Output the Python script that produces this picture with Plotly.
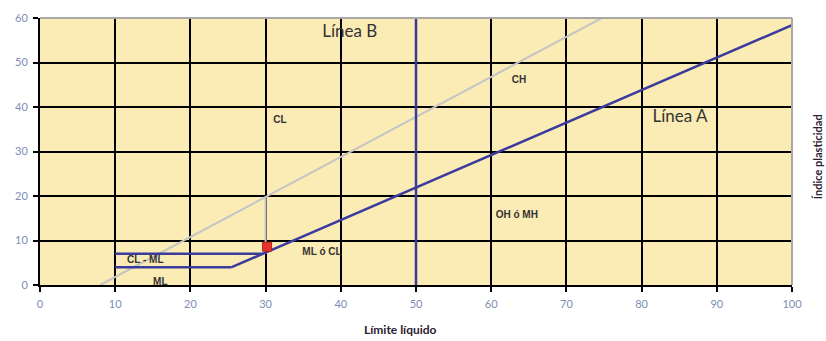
import plotly.graph_objects as go

# Casagrande plasticity chart data
x_ticks = [0, 10, 20, 30, 40, 50, 60, 70, 80, 90, 100]
y_ticks = [0, 10, 20, 30, 40, 50, 60]

# Line A: PI = 0.73 (LL - 20), starting where PI = 4
line_a_ll = [25.5, 100]
line_a_pi = [4.0, 58.4]

# Line B: LL = 50
line_b_ll = [50, 50]
line_b_pi = [0, 60]

# Upper limit line: PI = 0.9 (LL - 8)
u_line_ll = [8, 74.7]
u_line_pi = [0, 60]

# Vertical guide at LL = 30 from the U-line down to the CL-ML band
guide_ll = [30, 30]
guide_pi = [19.8, 7]

# CL-ML band limits (PI = 7 and PI = 4)
band_top_ll = [10, 29.6]
band_top_pi = [7, 7]
band_bot_ll = [10, 25.5]
band_bot_pi = [4, 4]

# Sample point
sample_ll = [30.2]
sample_pi = [8.6]

# Zone labels
zone_text = ["CH", "CL", "OH ó MH", "ML ó CL", "CL - ML", "ML"]
zone_ll = [63.7, 31.9, 63.4, 37.5, 14.0, 16.0]
zone_pi = [46.0, 37.0, 15.7, 7.3, 5.5, 0.6]

line_text = ["Línea B", "Línea A"]
line_text_ll = [41.2, 85.1]
line_text_pi = [56.6, 37.6]

BLUE = "#3b3b9e"
GRAY = "#c4c4c4"
TXT = "#333333"

fig = go.Figure()

fig.add_trace(go.Scatter(x=u_line_ll, y=u_line_pi, mode="lines",
                         line=dict(color=GRAY, width=2), hoverinfo="skip"))
fig.add_trace(go.Scatter(x=guide_ll, y=guide_pi, mode="lines",
                         line=dict(color=GRAY, width=2), hoverinfo="skip"))
fig.add_trace(go.Scatter(x=line_a_ll, y=line_a_pi, mode="lines",
                         line=dict(color=BLUE, width=2.5), hoverinfo="skip"))
fig.add_trace(go.Scatter(x=line_b_ll, y=line_b_pi, mode="lines",
                         line=dict(color=BLUE, width=2.5), hoverinfo="skip"))
fig.add_trace(go.Scatter(x=band_top_ll, y=band_top_pi, mode="lines",
                         line=dict(color=BLUE, width=2.5), hoverinfo="skip"))
fig.add_trace(go.Scatter(x=band_bot_ll, y=band_bot_pi, mode="lines",
                         line=dict(color=BLUE, width=2.5), hoverinfo="skip"))
fig.add_trace(go.Scatter(x=sample_ll, y=sample_pi, mode="markers",
                         marker=dict(symbol="square", size=9, color="#e8332a",
                                     line=dict(color="#b02020", width=1)),
                         hoverinfo="skip"))

fig.add_trace(go.Scatter(x=zone_ll, y=zone_pi, mode="text", text=zone_text,
                         textfont=dict(family="Liberation Sans", size=10, color=TXT),
                         texttemplate="<b>%{text}</b>", cliponaxis=False,
                         hoverinfo="skip"))
fig.add_trace(go.Scatter(x=line_text_ll, y=line_text_pi, mode="text", text=line_text,
                         textfont=dict(family="Lato", size=17, color=TXT),
                         cliponaxis=False, hoverinfo="skip"))

axis_common = dict(
    showgrid=True, gridcolor="black", gridwidth=2,
    showline=True, linecolor="black", linewidth=2,
    ticks="outside", ticklen=5, tickwidth=2, tickcolor="black",
    tickfont=dict(family="Lato", size=11, color="#7d8db4"),
    zeroline=False, fixedrange=True,
)

fig.update_layout(
    width=826, height=341,
    margin=dict(l=40, r=34, t=18, b=56),
    paper_bgcolor="white", plot_bgcolor="#fbebb5",
    showlegend=False,
    xaxis=dict(range=[0, 100], tickvals=x_ticks, ticklabelstandoff=3, **axis_common),
    yaxis=dict(range=[0, 60], tickvals=y_ticks, ticklabelstandoff=3, **axis_common),
    shapes=[
        dict(type="line", xref="paper", yref="paper", x0=0, x1=1, y0=1, y1=1,
             line=dict(color="#a8a8a8", width=2)),
        dict(type="line", xref="paper", yref="paper", x0=1, x1=1, y0=0, y1=1,
             line=dict(color="#a8a8a8", width=2)),
    ],
    annotations=[
        dict(text="<b>Límite líquido</b>", xref="paper", yref="paper",
             x=0.48, y=-0.165, xanchor="center", yanchor="middle", showarrow=False,
             font=dict(family="Lato", size=12, color="#2a2030")),
        dict(text="<b>Índice plasticidad</b>", xref="paper", yref="paper",
             x=1.035, y=0.48, xanchor="center", yanchor="middle", showarrow=False,
             textangle=-90, font=dict(family="Lato", size=11, color="#2a2030")),
    ],
)

fig.write_html("out.html")
